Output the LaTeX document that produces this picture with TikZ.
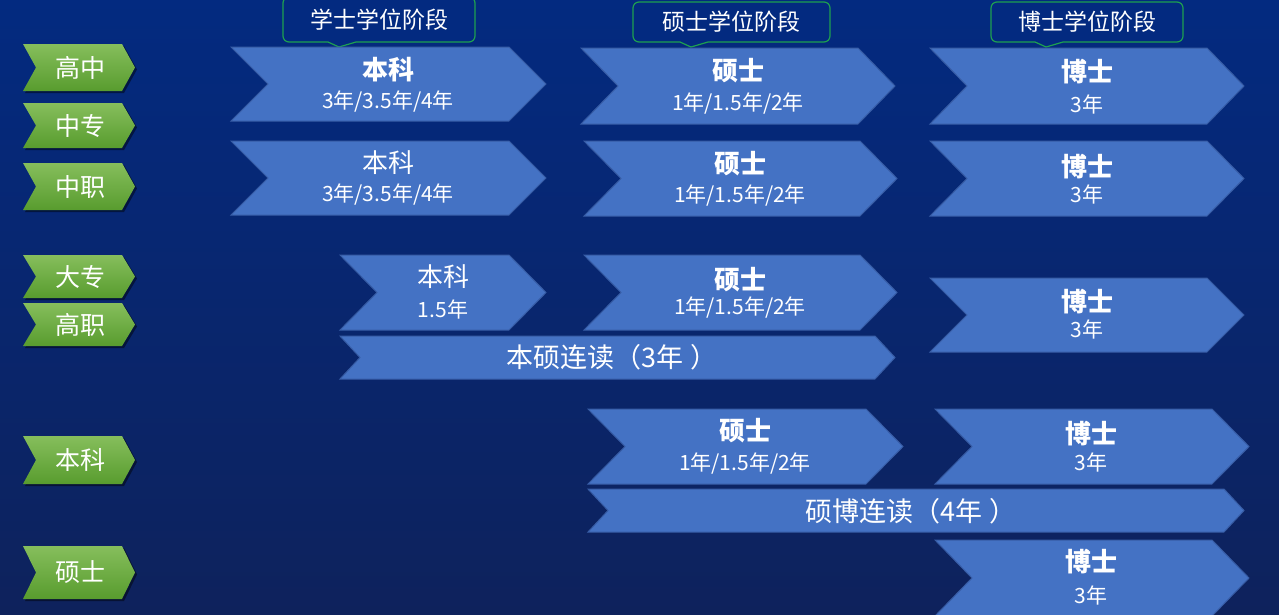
\documentclass[tikz,border=0pt]{standalone}
\usepackage{fontspec}
\setmainfont{Noto Sans CJK SC}
\usetikzlibrary{shadows}
\definecolor{bgtop}{RGB}{3,42,128}
\definecolor{bgbot}{RGB}{14,34,92}
\definecolor{chevblue}{RGB}{68,114,196}
\definecolor{chevedge}{RGB}{55,92,165}
\definecolor{greentop}{RGB}{134,190,92}
\definecolor{greenbot}{RGB}{88,156,46}
\definecolor{calloutedge}{RGB}{30,160,80}
\tikzset{
  chevfill/.style={fill=chevblue, draw=chevedge, line width=1pt, line join=miter},
  greenfill/.style={top color=greentop, bottom color=greenbot,
    drop shadow={shadow xshift=2pt, shadow yshift=-2pt, opacity=0.45, fill=black}},
  calloutbox/.style={fill=bgtop, draw=calloutedge, line width=1.2pt},
  ttlbold/.style={text=white, inner sep=0pt, font=\bfseries\fontsize{26}{30}\selectfont},
  ttlreg/.style={text=white, inner sep=0pt, font=\fontsize{26}{30}\selectfont},
  subtxt/.style={text=white, inner sep=0pt, font=\fontsize{21}{24}\selectfont},
  bartxt/.style={text=white, inner sep=0pt, font=\fontsize{27}{30}\selectfont},
  greentxt/.style={text=white, inner sep=0pt, font=\fontsize{25}{28}\selectfont},
  headtxt/.style={text=white, inner sep=0pt, font=\fontsize{23}{26}\selectfont},
}
% name x1 y1 x2 y2 depth
\newcommand{\bchev}[6]{%
  \path[chevfill] (#2,#3) -- (#4-#6,#3) -- (#4,{(#3+#5)/2}) -- (#4-#6,#5) -- (#2,#5) -- (#2+#6,{(#3+#5)/2}) -- cycle;
  \coordinate (#1) at ({(#2+#4)/2},{(#3+#5)/2});}
% name y1 y2 label
\newcommand{\gchev}[4]{%
  \path[greenfill] (23,#2) -- (122,#2) -- (135,{(#2+#3)/2}) -- (122,#3) -- (23,#3) -- (36,{(#2+#3)/2}) -- cycle;
  \node[greentxt] (#1) at (80,{(#2+#3)/2}) {#4};}
% x1 x2 text ytop ybot tipx name
\newcommand{\callout}[7]{%
  \path[calloutbox] (#6,#5+5) -- (#6+17,#5) [rounded corners=6pt] -- (#2,#5) -- (#2,#4) -- (#1,#4) -- (#1,#5) [sharp corners] -- (#6-11,#5) -- cycle;
  \node[headtxt] (#7) at ({(#1+#2)/2},{(#4+#5)/2}) {#3};}
\begin{document}
\begin{tikzpicture}[x=1pt,y=-1pt]
\useasboundingbox (0,0) rectangle (1279,614);
\shade[top color=bgtop, bottom color=bgbot] (0,0) rectangle (1279,614);

% headers
\callout{283}{475}{学士学位阶段}{-3}{42}{339}{hxs}
\callout{633}{830}{硕士学位阶段}{2}{42}{691}{hss}
\callout{991}{1183}{博士学位阶段}{2}{42}{1046}{hbs}

% green labels
\gchev{gGZ}{44}{91}{高中}
\gchev{gZZ}{103}{148}{中专}
\gchev{gZY}{163}{210}{中职}
\gchev{gDZ}{255}{298}{大专}
\gchev{gGY}{303}{346}{高职}
\gchev{gBK}{436}{484}{本科}
\gchev{gSS}{546}{599}{硕士}

% row A
\bchev{cA1}{231}{47}{546}{121}{37}
\node[ttlbold] (tA1) at (388,70) {本科};
\node[subtxt] (sA1) at (388,102) {3年/3.5年/4年};
\bchev{cA2}{581}{48}{895}{124}{37}
\node[ttlbold] (tA2) at (738,71) {硕士};
\node[subtxt] (sA2) at (738,104) {1年/1.5年/2年};
\bchev{cA3}{930}{48}{1244}{124}{37}
\node[ttlbold] (tA3) at (1087,72) {博士};
\node[subtxt] (sA3) at (1087,104) {3年};

% row B
\bchev{cB1}{231}{141}{546}{215}{37}
\node[ttlreg] (tB1) at (388,163) {本科};
\node[subtxt] (sB1) at (388,195) {3年/3.5年/4年};
\bchev{cB2}{584}{141}{897}{216}{37}
\node[ttlbold] (tB2) at (740,164) {硕士};
\node[subtxt] (sB2) at (740,196) {1年/1.5年/2年};
\bchev{cB3}{930}{141}{1244}{216}{37}
\node[ttlbold] (tB3) at (1087,167) {博士};
\node[subtxt] (sB3) at (1087,194) {3年};

% row C
\bchev{cC1}{340}{255}{546}{330}{37}
\node[ttlreg] (tC1) at (443,277) {本科};
\node[subtxt] (sC1) at (443,309) {1.5年};
\bchev{cC2}{584}{255}{897}{330}{37}
\node[ttlbold] (tC2) at (740,280) {硕士};
\node[subtxt] (sC2) at (740,308) {1年/1.5年/2年};
\bchev{cC3}{930}{278}{1244}{352}{37}
\node[ttlbold] (tC3) at (1087,302) {博士};
\node[subtxt] (sC3) at (1087,329) {3年};
\bchev{cC4}{340}{336}{895}{379}{20}
\node[bartxt] (tC4) at (612,357) {本硕连读（3年 ）};

% row D
\bchev{cD1}{588}{409}{903}{484}{37}
\node[ttlbold] (tD1) at (745,431) {硕士};
\node[subtxt] (sD1) at (745,464) {1年/1.5年/2年};
\bchev{cD2}{935}{409}{1249}{484}{37}
\node[ttlbold] (tD2) at (1091,434) {博士};
\node[subtxt] (sD2) at (1091,462) {3年};
\bchev{cD3}{588}{489}{1244}{532}{20}
\node[bartxt] (tD3) at (911,511) {硕博连读（4年 ）};

% row E
\bchev{cE1}{935}{540}{1249}{616}{37}
\node[ttlbold] (tE1) at (1091,562) {博士};
\node[subtxt] (sE1) at (1091,595) {3年};
\end{tikzpicture}
\end{document}
